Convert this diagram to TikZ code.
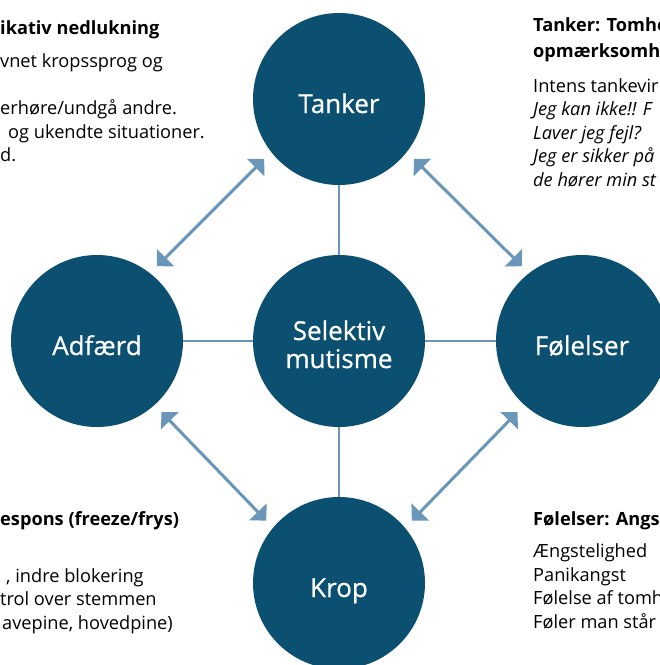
\documentclass[tikz,border=0pt]{standalone}
\usepackage{fontspec}
\setmainfont{Open Sans}
\newfontfamily\circfont[FakeBold=0.6]{Open Sans}
\usetikzlibrary{arrows.meta}
\definecolor{circblue}{HTML}{0B5070}
\definecolor{arrowblue}{HTML}{6A96BA}
\begin{document}
\begin{tikzpicture}[x=1pt, y=-1pt,
    topic/.style={circle, fill=circblue, minimum size=172pt, inner sep=0pt, outer sep=0pt,
      text=white, align=center, text height=28pt, text depth=0pt,
      font=\circfont\fontsize{26}{28}\selectfont},
    link/.style={draw=arrowblue, line width=1.8pt},
    pair/.style={draw=arrowblue, line width=3pt,
      {Triangle[length=12pt,width=24pt]}-{Triangle[length=12pt,width=24pt]},
      shorten <=10pt, shorten >=10pt},
    info/.style={anchor=north west, align=left, inner sep=0pt, font=\fontsize{18.2}{23.5}\selectfont}]
    \useasboundingbox (0,0) rectangle (660,665);
    \clip (0,0) rectangle (660,665);
    \node[topic, text height=54pt] (sm) at (339,341) {Selektiv\\mutisme};
    \node[topic] (tanker) at (339,99) {Tanker};
    \node[topic] (adfaerd) at (97,341) {Adfærd};
    \node[topic] (foelelser) at (582,341) {Følelser};
    \node[topic] (krop) at (339,583) {Krop};
    \draw[link] (sm) -- (tanker);
    \draw[link] (sm) -- (adfaerd);
    \draw[link] (sm) -- (foelelser);
    \draw[link] (sm) -- (krop);
    \draw[pair] (tanker.218) -- (adfaerd.52);
    \draw[pair] (tanker.322) -- (foelelser.128);
    \draw[pair] (adfaerd.312) -- (krop.140);
    \draw[pair] (krop.40) -- (foelelser.228);
    \node[info] (adfaerdtxt) at (0,20) {\textbf{ikativ nedlukning}\\[10pt]
      vnet kropssprog og\\
      \mbox{}\\
      erhøre/undgå andre.\\
      \hspace*{8pt}og ukendte situationer.\\
      d.};
    \node[info] (tankertxt) at (533,17) {\textbf{Tanker: Tomhe}\\[3pt]
      \textbf{opmærksomh}\\[11pt]
      Intens tankevir\\
      \textit{Jeg kan ikke!! F}\\
      \textit{Laver jeg fejl?}\\
      \textit{Jeg er sikker på}\\
      \textit{de hører min st}};
    \node[info] (kroptxt) at (0,511) {\textbf{espons (freeze/frys)}\\[10pt]
      \mbox{}\\
      \hspace*{6pt}, indre blokering\\
      trol over stemmen\\
      \hspace*{2pt}avepine, hovedpine)};
    \node[info] (foelelsertxt) at (533,511) {\textbf{Følelser: Angs}\\[9pt]
      Ængstelighed\\
      Panikangst\\
      Følelse af tomh\\
      Føler man står};
\end{tikzpicture}
\end{document}
